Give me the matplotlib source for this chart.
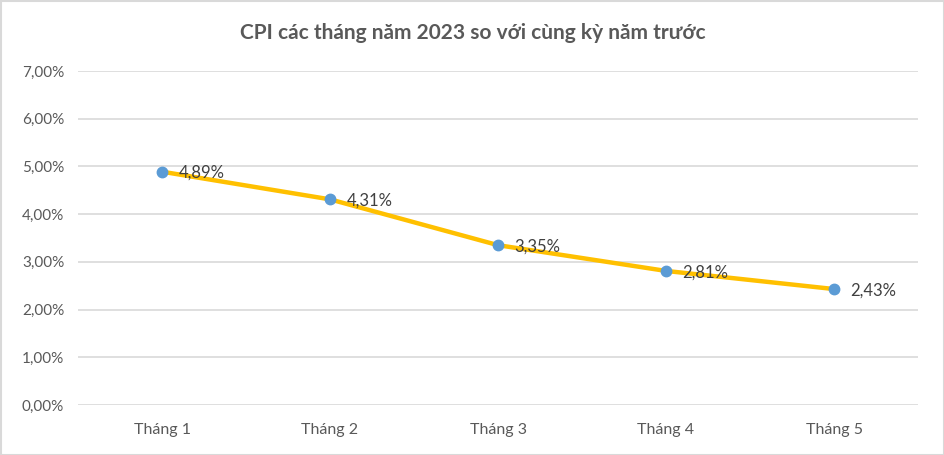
import matplotlib
matplotlib.use("Agg")
import matplotlib.pyplot as plt
from matplotlib.patches import Rectangle

categories = ["Tháng 1", "Tháng 2", "Tháng 3", "Tháng 4", "Tháng 5"]
values = [4.89, 4.31, 3.35, 2.81, 2.43]
yticks = [0, 1, 2, 3, 4, 5, 6, 7]
title = "CPI các tháng năm 2023 so với cùng kỳ năm trước"

plt.rcParams['font.family'] = ['Lato', 'DejaVu Sans']
txt = '#595959'

fig = plt.figure(figsize=(9.45, 4.55), dpi=100)
ax = fig.add_axes([78/945, 1-405/455, 840/945, (405-71)/455])

x = list(range(len(categories)))
ax.plot(x, values, color='#FFC000', lw=3.2, zorder=3, solid_capstyle='round')
ax.plot(x, values, 'o', color='#5B9BD5', ms=7.5, zorder=4)
for xi, v in zip(x, values):
    ax.annotate(f"{v:.2f}%".replace('.', ','), (xi, v), xytext=(12, -1),
                textcoords='offset points', va='center', ha='left',
                fontsize=12, color='#404040', zorder=5)

ax.set_xlim(-0.5, len(categories) - 0.5)
ax.set_ylim(0, 7)
ax.set_yticks(yticks)
ax.set_yticklabels([f"{t:.2f}%".replace('.', ',') for t in yticks], fontsize=11, color=txt)
ax.set_xticks(x)
ax.set_xticklabels(categories, fontsize=11.5, color=txt)
ax.tick_params(axis='y', length=0, pad=10)
ax.tick_params(axis='x', length=0, pad=13)
ax.grid(axis='y', color='#D9D9D9', lw=1.2)
ax.set_axisbelow(True)
for s in ax.spines.values():
    s.set_visible(False)

fig.text(0.5, 1-33/455, title, ha='center', va='center', fontsize=15,
         fontweight='bold', color=txt)
fig.patches.append(Rectangle((0.5/945, 0.5/455), 1-1/945, 1-1/455, transform=fig.transFigure,
                             fill=False, edgecolor='#D9D9D9', lw=1.5))
fig.savefig("out.png", dpi=100)
